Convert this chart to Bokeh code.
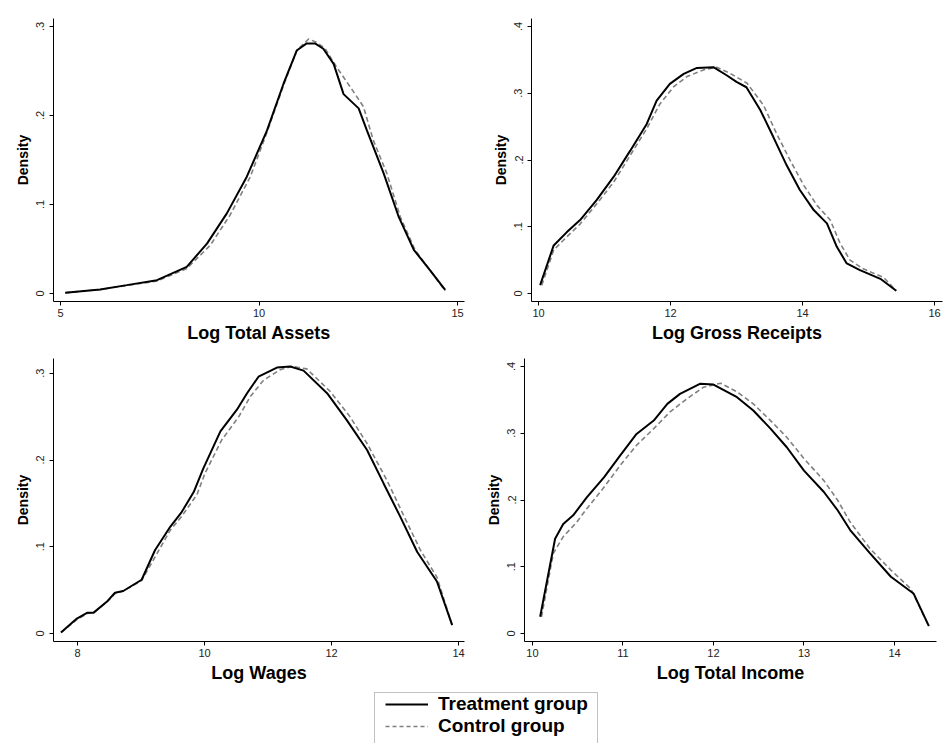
from bokeh.plotting import figure
from bokeh.layouts import column, row
from bokeh.models import (FixedTicker, CustomJSTickFormatter, Range1d, Legend, LegendItem,
                          BoxAnnotation)
from bokeh.embed import file_html
from bokeh.resources import INLINE

FONT = "Liberation Sans"

# ---------------- Data ----------------
# Panel 1: Log Total Assets
assets_treat_x = [5.12, 6.0, 6.67, 7.43, 8.18, 8.69, 9.19, 9.69, 10.2, 10.62, 10.95, 11.2, 11.41,
                  11.62, 11.88, 12.13, 12.51, 12.72, 13.14, 13.52, 13.9, 14.31, 14.69]
assets_treat_y = [0.0007, 0.0045, 0.0094, 0.015, 0.030, 0.056, 0.090, 0.131, 0.183, 0.236, 0.273,
                  0.281, 0.281, 0.275, 0.258, 0.224, 0.208, 0.183, 0.135, 0.086, 0.049, 0.026, 0.004]
assets_ctrl_x = [5.12, 6.0, 6.67, 7.43, 8.18, 8.77, 9.27, 9.78, 10.2, 10.62, 10.95, 11.25, 11.46,
                 11.67, 11.96, 12.3, 12.63, 12.88, 13.22, 13.56, 13.93, 14.31, 14.69]
assets_ctrl_y = [0.0007, 0.0045, 0.009, 0.014, 0.028, 0.054, 0.088, 0.131, 0.181, 0.234, 0.273,
                 0.286, 0.282, 0.275, 0.254, 0.232, 0.21, 0.172, 0.135, 0.086, 0.049, 0.026, 0.003]

# Panel 2: Log Gross Receipts
receipts_treat_x = [10.025, 10.23, 10.43, 10.63, 10.88, 11.14, 11.39, 11.64, 11.79, 11.99, 12.2, 12.4,
                    12.65, 12.85, 13.0, 13.15, 13.36, 13.56, 13.76, 13.96, 14.17, 14.37, 14.52, 14.67,
                    14.87, 15.18, 15.42]
receipts_treat_y = [0.0125, 0.072, 0.092, 0.110, 0.140, 0.175, 0.214, 0.254, 0.289, 0.314, 0.329, 0.338,
                    0.339, 0.327, 0.317, 0.309, 0.275, 0.234, 0.192, 0.155, 0.125, 0.105, 0.070, 0.045,
                    0.035, 0.022, 0.004]
receipts_ctrl_x = [10.05, 10.23, 10.43, 10.63, 10.88, 11.14, 11.39, 11.64, 11.84, 12.05, 12.25, 12.5,
                   12.7, 12.9, 13.16, 13.41, 13.61, 13.81, 14.02, 14.22, 14.42, 14.57, 14.72, 14.92,
                   15.23, 15.42]
receipts_ctrl_y = [0.0125, 0.065, 0.085, 0.104, 0.134, 0.167, 0.207, 0.247, 0.284, 0.31, 0.325, 0.335,
                   0.339, 0.33, 0.315, 0.282, 0.239, 0.2, 0.162, 0.132, 0.11, 0.075, 0.05, 0.037,
                   0.024, 0.004]

# Panel 3: Log Wages
wages_treat_x = [7.74, 7.99, 8.15, 8.25, 8.46, 8.59, 8.72, 9.01, 9.22, 9.46, 9.64, 9.83, 9.98, 10.25,
                 10.51, 10.67, 10.85, 11.14, 11.35, 11.56, 11.93, 12.24, 12.56, 12.82, 13.08, 13.35,
                 13.66, 13.9]
wages_treat_y = [0.0012, 0.0173, 0.0238, 0.0238, 0.0365, 0.047, 0.049, 0.062, 0.096, 0.123, 0.140,
                 0.163, 0.190, 0.233, 0.258, 0.277, 0.296, 0.3065, 0.3077, 0.303, 0.277, 0.246, 0.2115,
                 0.173, 0.135, 0.094, 0.060, 0.0096]
wages_ctrl_x = [7.74, 7.99, 8.15, 8.25, 8.46, 8.59, 8.72, 9.01, 9.25, 9.46, 9.64, 9.88, 10.01, 10.27,
                10.54, 10.72, 10.93, 11.19, 11.38, 11.61, 11.98, 12.29, 12.56, 12.87, 13.13, 13.4,
                13.66, 13.9]
wages_ctrl_y = [0.0012, 0.016, 0.023, 0.024, 0.036, 0.046, 0.049, 0.061, 0.092, 0.119, 0.135, 0.16,
                0.185, 0.223, 0.25, 0.273, 0.292, 0.304, 0.308, 0.305, 0.279, 0.25, 0.219, 0.177,
                0.137, 0.096, 0.065, 0.0096]

# Panel 4: Log Total Income
income_treat_x = [10.085, 10.25, 10.34, 10.45, 10.6, 10.79, 10.97, 11.15, 11.34, 11.49, 11.63, 11.85,
                  12.0, 12.26, 12.44, 12.63, 12.81, 13.0, 13.22, 13.37, 13.51, 13.73, 13.96, 14.21, 14.38]
income_treat_y = [0.025, 0.142, 0.164, 0.177, 0.204, 0.234, 0.267, 0.299, 0.319, 0.344, 0.359, 0.374,
                  0.373, 0.354, 0.334, 0.307, 0.279, 0.244, 0.212, 0.185, 0.155, 0.120, 0.085, 0.060, 0.011]
income_ctrl_x = [10.1, 10.23, 10.34, 10.49, 10.6, 10.79, 10.97, 11.15, 11.34, 11.52, 11.71, 11.89,
                 12.08, 12.26, 12.44, 12.63, 12.81, 13.0, 13.22, 13.37, 13.51, 13.73, 13.96, 14.18, 14.38]
income_ctrl_y = [0.025, 0.12, 0.145, 0.167, 0.187, 0.219, 0.252, 0.282, 0.307, 0.332, 0.352, 0.369,
                 0.375, 0.362, 0.344, 0.319, 0.294, 0.262, 0.229, 0.2, 0.167, 0.127, 0.095, 0.067, 0.011]

x_labels = ["Log Total Assets", "Log Gross Receipts", "Log Wages", "Log Total Income"]
x_ticks = [[5, 10, 15], [10, 12, 14, 16], [8, 10, 12, 14], [10, 11, 12, 13, 14]]
y_ticks = [[0, 0.1, 0.2, 0.3], [0, 0.1, 0.2, 0.3, 0.4], [0, 0.1, 0.2, 0.3], [0, 0.1, 0.2, 0.3, 0.4]]
series_labels = ["Treatment group", "Control group"]

TREAT_COLOR = "#000000"
CTRL_COLOR = "#808080"
PANEL_EDGE = "#eef1f3"

yfmt_code = "return tick == 0 ? '0' : tick.toFixed(1).replace(/^0/, '');"


def panel(tx, ty, cx, cy, xlabel, xt, yt, xr, yr, borders):
    left, right, top, bottom = borders
    p = figure(width=475, height=345, output_backend="svg", toolbar_location=None,
               x_range=Range1d(*xr), y_range=Range1d(*yr),
               min_border_left=left, min_border_right=right,
               min_border_top=top, min_border_bottom=bottom,
               background_fill_color="white", border_fill_color="white")
    p.outline_line_color = None
    p.grid.visible = False
    p.line(cx, cy, line_color=CTRL_COLOR, line_width=1.6, line_dash="5 3")
    p.line(tx, ty, line_color=TREAT_COLOR, line_width=2)

    p.xaxis.ticker = FixedTicker(ticks=xt)
    p.yaxis.ticker = FixedTicker(ticks=yt)
    p.yaxis.formatter = CustomJSTickFormatter(code=yfmt_code)
    p.yaxis.major_label_orientation = "vertical"
    for ax in (p.xaxis[0], p.yaxis[0]):
        ax.axis_line_color = "black"
        ax.axis_line_width = 1
        ax.major_tick_line_color = "black"
        ax.major_tick_out = 4
        ax.major_tick_in = 0
        ax.minor_tick_line_color = None
        ax.major_label_text_font = FONT
        ax.major_label_text_font_size = "11px"
        ax.major_label_text_color = "#222222"
        ax.axis_label_text_font = FONT
        ax.axis_label_text_font_style = "bold"
        ax.axis_label_text_color = "black"
    p.xaxis.axis_label = xlabel
    p.xaxis.axis_label_text_font_size = "18px"
    p.xaxis.major_label_standoff = 3
    p.xaxis.axis_label_standoff = 3
    p.yaxis.axis_label = "Density"
    p.yaxis.axis_label_text_font_size = "14px"
    p.yaxis.major_label_standoff = 5
    p.yaxis.axis_label_standoff = 3
    return p


p1 = panel(assets_treat_x, assets_treat_y, assets_ctrl_x, assets_ctrl_y, x_labels[0],
           x_ticks[0], y_ticks[0], (4.824, 15.176), (-0.009, 0.309), (53, 11, 18, 44))
p2 = panel(receipts_treat_x, receipts_treat_y, receipts_ctrl_x, receipts_ctrl_y, x_labels[1],
           x_ticks[1], y_ticks[1], (9.894, 16.121), (-0.012, 0.412), (56, 8, 18, 44))
p3 = panel(wages_treat_x, wages_treat_y, wages_ctrl_x, wages_ctrl_y, x_labels[2],
           x_ticks[2], y_ticks[2], (7.622, 14.094), (-0.0092, 0.317), (53, 11, 13, 49))
p4 = panel(income_treat_x, income_treat_y, income_ctrl_x, income_ctrl_y, x_labels[3],
           x_ticks[3], y_ticks[3], (9.912, 14.464), (-0.012, 0.412), (49, 14, 13, 49))

# Legend strip: a 950x53 canvas whose ranges equal its pixel size
pl = figure(width=950, height=53, output_backend="svg", toolbar_location=None,
            x_range=Range1d(0, 950), y_range=Range1d(0, 53),
            min_border_left=0, min_border_right=0, min_border_top=0, min_border_bottom=0)
pl.axis.visible = False
pl.grid.visible = False
pl.outline_line_color = None
# legend frame
pl.add_layout(BoxAnnotation(left=374, right=597, top=51, bottom=-10,
                            fill_color="white", fill_alpha=1,
                            line_color="#333333", line_width=1, level="underlay"))
r_t = pl.line([-50, -40], [-50, -40], line_color=TREAT_COLOR, line_width=2)
r_c = pl.line([-50, -40], [-50, -40], line_color=CTRL_COLOR, line_width=1.6, line_dash="4 3")
legend = Legend(items=[LegendItem(label=series_labels[0], renderers=[r_t]),
                       LegendItem(label=series_labels[1], renderers=[r_c])],
                location=(385, 6), orientation="vertical",
                label_text_font=FONT, label_text_font_style="bold",
                label_text_font_size="19px", label_text_color="black",
                glyph_width=43, glyph_height=20, label_height=20, label_standoff=10,
                spacing=0, padding=0, margin=0,
                border_line_color=None, background_fill_alpha=0)
pl.add_layout(legend, "center")

layout = column(row(p1, p2), row(p3, p4), pl)

open("out.html", "w").write(file_html(layout, INLINE))
